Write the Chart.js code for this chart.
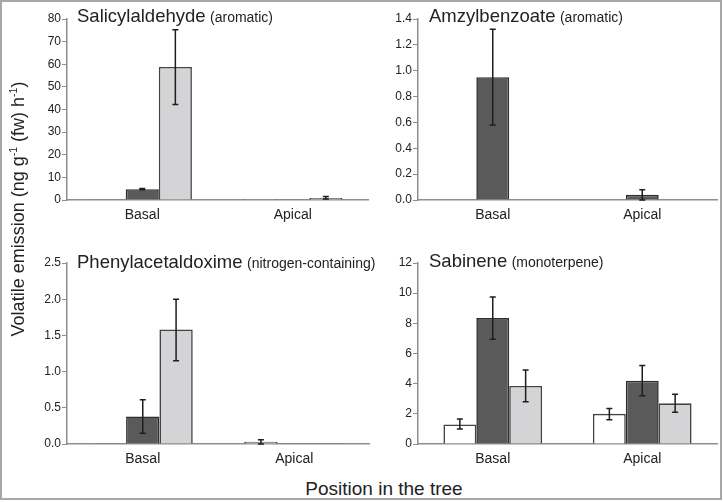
<!DOCTYPE html>
<html>
<head>
<meta charset="utf-8">
<script src="https://cdn.jsdelivr.net/npm/chart.js@4/dist/chart.umd.min.js"></script>
<style>
  body { margin: 0; background: #fff; }
  #fig { position: relative; width: 723px; height: 502px; background: #fff; overflow: hidden;
         font-family: "Liberation Sans", Arial, Helvetica, sans-serif; color: #222; }
  #frame { position: absolute; left: 0; top: 0; width: 722px; height: 500px; box-sizing: border-box;
           border: 2px solid #a8a8a8; pointer-events: none; }
  canvas { position: absolute; }
  .ttl { position: absolute; white-space: nowrap; line-height: 20px; }
  .ttl b { font-weight: normal; font-size: 18.5px; }
  .ttl span { font-size: 14px; }
  #ytitle { position: absolute; left: -132px; top: 198px; width: 300px; height: 22px; line-height: 22px;
            text-align: center; font-size: 18px; transform: rotate(-90deg); white-space: nowrap; }
  #ytitle sup { font-size: 10.5px; vertical-align: 0; position: relative; top: -7px; }
  #xtitle { position: absolute; left: 234px; top: 479px; width: 300px; text-align: center;
            font-size: 19px; line-height: 19px; }
</style>
</head>
<body>
<div id="fig">
  <canvas id="c1" width="350" height="232" style="left:20px;top:0px"></canvas>
  <canvas id="c2" width="350" height="232" style="left:372px;top:0px"></canvas>
  <canvas id="c3" width="350" height="232" style="left:20px;top:240px"></canvas>
  <canvas id="c4" width="350" height="232" style="left:372px;top:240px"></canvas>

  <div class="ttl" style="left:77px;top:6px"><b>Salicylaldehyde</b> <span>(aromatic)</span></div>
  <div class="ttl" style="left:429px;top:6px"><b>Amzylbenzoate</b> <span>(aromatic)</span></div>
  <div class="ttl" style="left:77px;top:252px"><b>Phenylacetaldoxime</b> <span>(nitrogen-containing)</span></div>
  <div class="ttl" style="left:429px;top:251px"><b>Sabinene</b> <span>(monoterpene)</span></div>

  <div id="ytitle">Volatile emission (ng g<sup>-1</sup> (fw) h<sup>-1</sup>)</div>
  <div id="xtitle">Position in the tree</div>
  <div id="frame"></div>
</div>

<script>
// categories on the x axis of every panel
var categories = ['Basal', 'Apical'];

// Salicylaldehyde
var salWhite = [0.15, 0.05];
var salDark = [4.8, 0.3];
var salLight = [58.8, 0.9];
var salWhiteErr = [null, null];
var salDarkErr = [[4.5, 5.1], null];
var salLightErr = [[42.2, 75.3], [0.4, 1.5]];
var salTicks = [0, 10, 20, 30, 40, 50, 60, 70, 80];

// Amzylbenzoate
var amzWhite = [null, null];
var amzDark = [0.95, 0.04];
var amzLight = [null, null];
var amzWhiteErr = [null, null];
var amzDarkErr = [[0.58, 1.32], [0.0, 0.08]];
var amzLightErr = [null, null];
var amzTicks = [0, 0.2, 0.4, 0.6, 0.8, 1.0, 1.2, 1.4];

// Phenylacetaldoxime
var pheWhite = [0.004, 0.03];
var pheDark = [0.38, 0.004];
var pheLight = [1.58, 0.004];
var pheWhiteErr = [null, [0.0, 0.06]];
var pheDarkErr = [[0.15, 0.61], null];
var pheLightErr = [[1.15, 2.0], null];
var pheTicks = [0, 0.5, 1.0, 1.5, 2.0, 2.5];

// Sabinene
var sabWhite = [1.3, 2.0];
var sabDark = [8.35, 4.2];
var sabLight = [3.85, 2.7];
var sabWhiteErr = [[1.0, 1.65], [1.6, 2.35]];
var sabDarkErr = [[6.95, 9.75], [3.2, 5.2]];
var sabLightErr = [[2.8, 4.9], [2.1, 3.3]];
var sabTicks = [0, 2, 4, 6, 8, 10, 12];

var axisGrey = '#8e8e8e';
var font = '"Liberation Sans", Arial, Helvetica, sans-serif';

// error bars drawn from the bar elements and the y scale
var errorBars = {
	id: 'errorBars',
	afterDatasetsDraw: function(chart) {
		var ctx = chart.ctx;
		var y = chart.scales.y;
		chart.data.datasets.forEach(function(ds, i) {
			var meta = chart.getDatasetMeta(i);
			meta.data.forEach(function(bar, j) {
				var e = ds.err[j];
				if (!e) return;
				var top = y.getPixelForValue(e[1]);
				var bot = y.getPixelForValue(e[0]);
				ctx.save();
				ctx.strokeStyle = '#1e1e1e';
				ctx.lineWidth = 1.5;
				ctx.beginPath();
				ctx.moveTo(bar.x, top); ctx.lineTo(bar.x, bot);
				ctx.moveTo(bar.x - 3, top); ctx.lineTo(bar.x + 3, top);
				ctx.moveTo(bar.x - 3, bot); ctx.lineTo(bar.x + 3, bot);
				ctx.stroke();
				ctx.restore();
			});
		});
	}
};

function makePanel(id, white, dark, light, errs, ticks, decimals, yWidth, pad, xHeight) {
	var ctx = document.getElementById(id);
	var sets = [
		{ data: white, err: errs[0], backgroundColor: '#ffffff', borderColor: '#444444' },
		{ data: dark, err: errs[1], backgroundColor: '#5a5a5a', borderColor: '#2e2e2e' },
		{ data: light, err: errs[2], backgroundColor: '#d4d4d6', borderColor: '#444444' }
	];
	sets.forEach(function(s) {
		s.borderWidth = 1.6;
		s.categoryPercentage = 0.66;
		s.barPercentage = 1.0;
	});
	return new Chart(ctx, {
		type: 'bar',
		data: { labels: categories, datasets: sets },
		options: {
			responsive: false,
			animation: false,
			devicePixelRatio: 1,
			layout: { padding: pad },
			plugins: { legend: { display: false }, tooltip: { enabled: false } },
			scales: {
				x: {
					grid: { display: true, drawOnChartArea: false, drawTicks: false },
					border: { color: axisGrey, width: 1.5 },
					ticks: { color: '#222222', font: { family: font, size: 14 }, padding: 7 },
					afterFit: function(s) { s.height = xHeight; }
				},
				y: {
					min: 0,
					max: ticks[ticks.length - 1],
					grid: { drawOnChartArea: false, tickLength: 5, color: axisGrey, tickWidth: 1 },
					border: { color: axisGrey, width: 1.5 },
					ticks: {
						color: '#222222',
						font: { family: font, size: 12 },
						padding: 1,
						callback: function(v) { return Number(v).toFixed(decimals); }
					},
					afterBuildTicks: function(s) {
						s.ticks = ticks.map(function(v) { return { value: v }; });
					},
					afterFit: function(s) { s.width = yWidth; }
				}
			}
		},
		plugins: [errorBars]
	});
}

makePanel('c1', salWhite, salDark, salLight, [salWhiteErr, salDarkErr, salLightErr], salTicks, 0,
	47, { top: 19, right: 2, left: 0, bottom: 0 }, 32);
makePanel('c2', amzWhite, amzDark, amzLight, [amzWhiteErr, amzDarkErr, amzLightErr], amzTicks, 1,
	46, { top: 19, right: 5, left: 0, bottom: 0 }, 32);
makePanel('c3', pheWhite, pheDark, pheLight, [pheWhiteErr, pheDarkErr, pheLightErr], pheTicks, 1,
	47, { top: 23, right: 0, left: 0, bottom: 0 }, 28);
makePanel('c4', sabWhite, sabDark, sabLight, [sabWhiteErr, sabDarkErr, sabLightErr], sabTicks, 0,
	46, { top: 23, right: 5, left: 0, bottom: 0 }, 28);
</script>
</body>
</html>
